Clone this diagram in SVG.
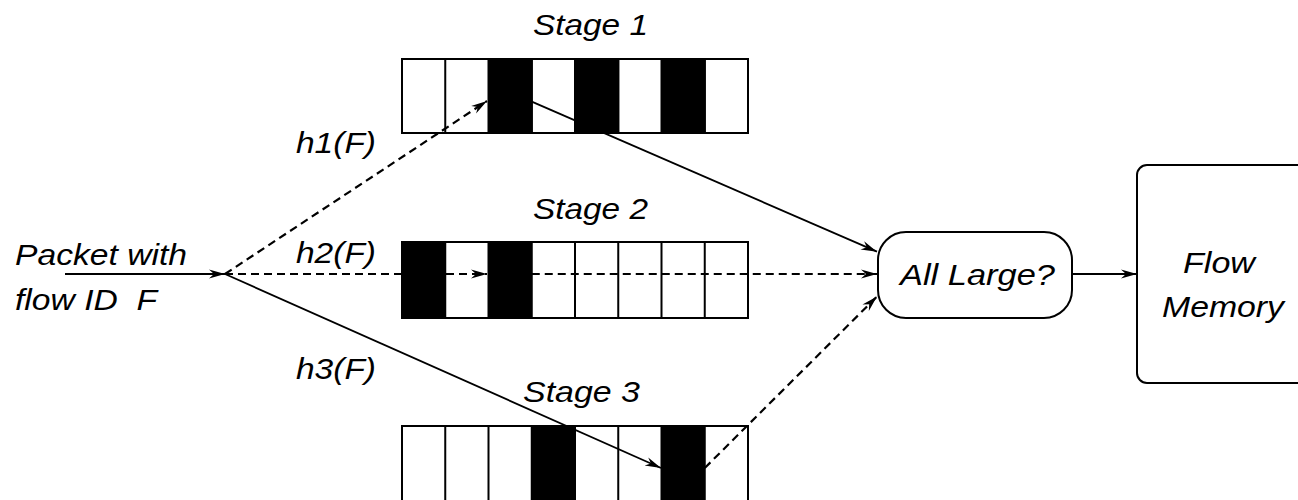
<svg xmlns="http://www.w3.org/2000/svg" width="1298" height="500" viewBox="0 0 1298 500">
<style>
.t{font-family:"Liberation Sans",Arial,sans-serif;font-style:italic;font-size:29px;fill:#000;white-space:pre}
.box{fill:#fff;stroke:#000;stroke-width:2}
.blk{fill:#000;stroke:#000;stroke-width:2}
.div{stroke:#000;stroke-width:2}
.ln{fill:none;stroke:#000;stroke-width:1.8}
.dash{stroke-dasharray:8 5;stroke-width:2.2}
</style>
<defs>
<marker id="ah" markerUnits="userSpaceOnUse" markerWidth="18" markerHeight="12" viewBox="0 -6 18 12" refX="16" refY="0" orient="auto">
<path d="M0,-4.5 L16,0 L0,4.5 L5,0 Z" fill="#000"/>
</marker>
</defs>
<rect width="1298" height="500" fill="#fff"/>

<g id="stage1">
<rect class="box" x="402" y="59" width="346" height="74"/>
<rect class="blk" x="488.5" y="59" width="43.25" height="74"/>
<rect class="blk" x="575" y="59" width="43.25" height="74"/>
<rect class="blk" x="661.5" y="59" width="43.25" height="74"/>
<path class="div" d="M445.25,59V133M531.75,59V133M618.25,59V133M704.75,59V133"/>
<text class="t" x="533" y="35" textLength="115" lengthAdjust="spacingAndGlyphs">Stage 1</text>
</g>

<g id="stage2">
<rect class="box" x="402" y="242" width="346" height="76"/>
<rect class="blk" x="402" y="242" width="43.25" height="76"/>
<rect class="blk" x="488.5" y="242" width="43.25" height="76"/>
<path class="div" d="M575,242V318M618.25,242V318M661.5,242V318M704.75,242V318"/>
<text class="t" x="533" y="219" textLength="115" lengthAdjust="spacingAndGlyphs">Stage 2</text>
</g>

<g id="stage3">
<rect class="box" x="402" y="426" width="346" height="100"/>
<rect class="blk" x="531.75" y="426" width="43.25" height="100"/>
<rect class="blk" x="661.5" y="426" width="43.25" height="100"/>
<path class="div" d="M445.25,426V500M488.5,426V500M618.25,426V500"/>
<text class="t" x="523" y="402" textLength="117" lengthAdjust="spacingAndGlyphs">Stage 3</text>
</g>

<g id="input">
<text class="t" x="15" y="265" textLength="172" lengthAdjust="spacingAndGlyphs">Packet with</text>
<text class="t" x="15" y="310" textLength="142" lengthAdjust="spacingAndGlyphs">flow ID  F</text>
</g>

<g id="hash-labels">
<text class="t" x="296" y="153" textLength="80" lengthAdjust="spacingAndGlyphs">h1(F)</text>
<text class="t" x="296" y="263" textLength="80" lengthAdjust="spacingAndGlyphs">h2(F)</text>
<text class="t" x="296" y="379" textLength="80" lengthAdjust="spacingAndGlyphs">h3(F)</text>
</g>

<g id="all-large">
<rect class="box" x="878" y="232" width="194" height="86" rx="28" ry="28"/>
<text class="t" x="900" y="285" textLength="155" lengthAdjust="spacingAndGlyphs">All Large?</text>
</g>

<g id="flow-memory">
<rect class="box" x="1137" y="165" width="200" height="218" rx="10" ry="10"/>
<text class="t" x="1183" y="273" textLength="72" lengthAdjust="spacingAndGlyphs">Flow</text>
<text class="t" x="1162" y="317" textLength="122" lengthAdjust="spacingAndGlyphs">Memory</text>
</g>

<g id="connectors">
<path class="ln" d="M65,274 L225,274" marker-end="url(#ah)"/>
<path class="ln dash" d="M225,274 L487,101" marker-end="url(#ah)"/>
<path class="ln dash" d="M225,274 L487,274" marker-end="url(#ah)"/>
<path class="ln dash" d="M531.75,274 L877,274" marker-end="url(#ah)"/>
<path class="ln" d="M225,274 L661,468" marker-end="url(#ah)"/>
<path class="ln" d="M531.75,101.7 L877,251.7" marker-end="url(#ah)"/>
<path class="ln dash" d="M704.75,468 L877,296.5" marker-end="url(#ah)"/>
<path class="ln" d="M1072,274 L1137,274" marker-end="url(#ah)"/>
</g>
</svg>
